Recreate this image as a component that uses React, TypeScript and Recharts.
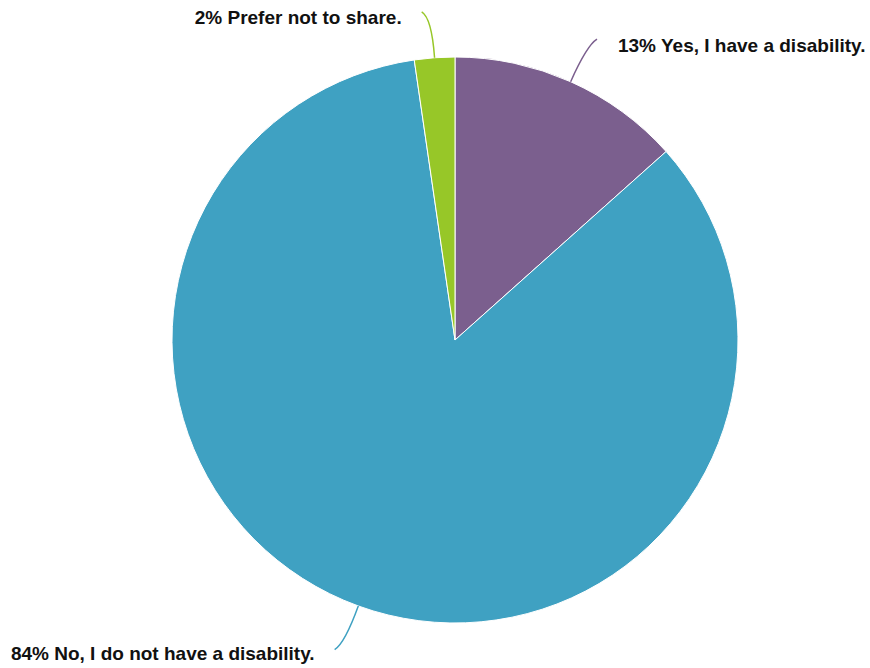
import { PieChart, Pie, Cell } from 'recharts';

const answers = ['Yes, I have a disability.', 'No, I do not have a disability.', 'Prefer not to share.'];
const shares = [13.4, 84.3, 2.3];
const colors = ['#7b5f8e', '#3fa1c2', '#97c728'];

const data = answers.map((name, i) => ({ name, value: shares[i] }));

const RAD = Math.PI / 180;

function renderLabel(props: any) {
  const { cx, cy, midAngle, outerRadius, index, value } = props;
  const cos = Math.cos(-midAngle * RAD);
  const sin = Math.sin(-midAngle * RAD);
  const sx = cx + outerRadius * cos;
  const sy = cy + outerRadius * sin;
  const qx = cx + (outerRadius + 40) * cos;
  const qy = cy + (outerRadius + 40) * sin;
  const right = cos >= 0;
  const down = sin >= 0;
  const ex = qx + (right ? 10 : -10);
  const ey = qy + (down ? 6 : -6);
  return (
    <g>
      <path d={`M${sx},${sy} Q${qx},${qy} ${ex},${ey}`} stroke={colors[index]} strokeWidth={1.5} fill="none" />
      <text
        x={ex + (right ? 21 : -20)}
        y={ey + (down ? 4 : 6)}
        textAnchor={right ? 'start' : 'end'}
        dominantBaseline="central"
        fontFamily="Liberation Sans, Arial, sans-serif"
        fontWeight="bold"
        fontSize={19}
        fill="#111"
      >
        {`${Math.round(value)}% ${answers[index]}`}
      </text>
    </g>
  );
}

export default function App() {
  return (
    <div style={{ position: 'absolute', left: 0, top: 0, background: '#fff' }}>
      <PieChart width={870} height={668}>
        <Pie
          data={data}
          dataKey="value"
          nameKey="name"
          cx={450}
          cy={335}
          outerRadius={283}
          startAngle={90}
          endAngle={-270}
          stroke="#fff"
          strokeWidth={1}
          label={renderLabel}
          labelLine={false}
          isAnimationActive={false}
        >
          {data.map((d, i) => (
            <Cell key={d.name} fill={colors[i]} />
          ))}
        </Pie>
      </PieChart>
    </div>
  );
}
